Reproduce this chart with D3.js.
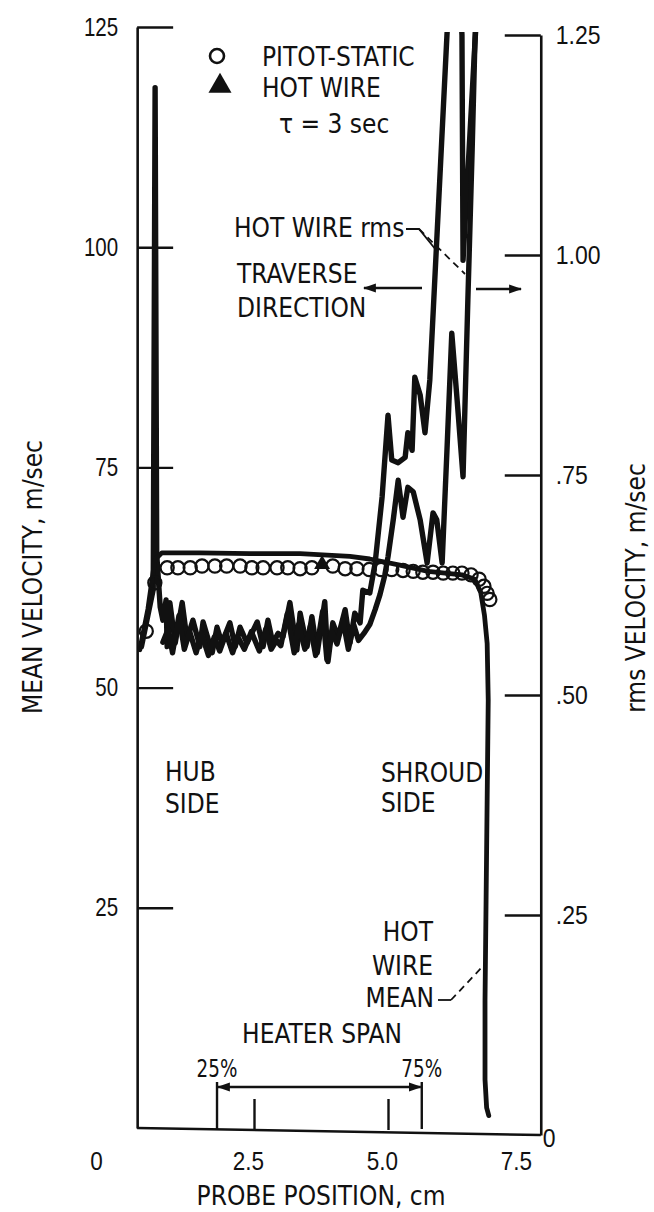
<!DOCTYPE html>
<html>
<head>
<meta charset="utf-8">
<script src="https://cdn.jsdelivr.net/npm/d3@7"></script>
<style>
  body { margin: 0; background: #fff; }
  svg { display: block; font-family: "DejaVu Sans Condensed", "DejaVu Sans", sans-serif; }
</style>
</head>
<body>
<div id="chart"></div>
<script>
// Chart dimensions.
const w = 654;
const h = 1212;

// Pitot-static survey: [probe position cm, mean velocity m/sec]
const pitotStatic = [
  [0.49, 56.4], [0.65, 61.9], [0.88, 63.6], [1.08, 63.6], [1.31, 63.6],
  [1.53, 63.8], [1.77, 63.8], [1.99, 63.8], [2.24, 63.8], [2.46, 63.6],
  [2.67, 63.6], [2.93, 63.6], [3.13, 63.6], [3.36, 63.5], [3.58, 63.6],
  [3.97, 63.8], [4.20, 63.5], [4.42, 63.5], [4.65, 63.4], [4.87, 63.4],
  [5.07, 63.4], [5.28, 63.3], [5.47, 63.2], [5.65, 63.1], [5.84, 63.1],
  [6.03, 63.0], [6.21, 63.0], [6.38, 63.0], [6.55, 62.8], [6.70, 62.3],
  [6.79, 61.5], [6.85, 60.7], [6.90, 60.0]
];

// Hot wire point (tau = 3 sec)
const hotWirePoint = [[3.77, 64.0]];

// Hot wire mean trace: [cm, m/sec]
const hotWireMean = [
  [0.37, 54.3], [0.52, 58.9], [0.65, 64.5], [0.78, 65.3], [1.49, 65.3],
  [2.43, 65.2], [3.36, 65.2], [4.29, 64.9], [4.66, 64.6], [5.22, 63.9],
  [5.75, 63.2], [6.38, 62.8], [6.62, 62.3], [6.73, 60.8], [6.80, 58.2],
  [6.85, 55.0], [6.87, 48.6], [6.85, 37.3], [6.83, 25.9], [6.81, 14.5],
  [6.81, 5.5], [6.84, 2.3], [6.88, 1.4]
];

// Hot wire rms traces (two records): [cm, rms m/sec]
const rmsRun1 = [
  [0.40, 0.555], [0.62, 0.620], [0.655, 1.19], [0.685, 0.660], [0.75, 0.600],
  [0.80, 0.585], [0.86, 0.608], [0.88, 0.555], [0.93, 0.605], [1.03, 0.559],
  [1.16, 0.605], [1.25, 0.563], [1.36, 0.585], [1.49, 0.555], [1.55, 0.583],
  [1.72, 0.548], [1.81, 0.577], [1.90, 0.559], [2.05, 0.582], [2.15, 0.555],
  [2.24, 0.577], [2.37, 0.559], [2.56, 0.583], [2.67, 0.555], [2.76, 0.585],
  [2.85, 0.559], [2.95, 0.570], [3.04, 0.566], [3.17, 0.605], [3.30, 0.551],
  [3.36, 0.593], [3.49, 0.555], [3.58, 0.589], [3.68, 0.548], [3.82, 0.606],
  [3.88, 0.538], [3.97, 0.582], [4.07, 0.566], [4.20, 0.597], [4.29, 0.559],
  [4.38, 0.593], [4.48, 0.582], [4.53, 0.619], [4.66, 0.616], [4.76, 0.650],
  [4.89, 0.725], [5.00, 0.818], [5.07, 0.767], [5.19, 0.764], [5.32, 0.770],
  [5.37, 0.798], [5.45, 0.778], [5.50, 0.861], [5.60, 0.841], [5.69, 0.798],
  [5.78, 0.858], [6.10, 1.25], [6.25, 1.40], [6.38, 1.25], [6.40, 0.994],
  [6.62, 1.239], [6.68, 1.30]
];
const rmsRun2 = [
  [0.80, 0.560], [0.90, 0.575], [0.98, 0.548], [1.10, 0.590], [1.20, 0.552],
  [1.30, 0.572], [1.42, 0.548], [1.52, 0.570], [1.65, 0.545], [1.76, 0.566],
  [1.86, 0.550], [1.98, 0.570], [2.10, 0.548], [2.20, 0.566], [2.32, 0.552],
  [2.45, 0.572], [2.60, 0.550], [2.72, 0.575], [2.82, 0.552], [2.92, 0.562],
  [3.00, 0.556], [3.12, 0.592], [3.25, 0.548], [3.33, 0.580], [3.45, 0.552],
  [3.55, 0.578], [3.65, 0.545], [3.78, 0.595], [3.86, 0.540], [3.95, 0.572],
  [4.05, 0.558], [4.16, 0.585], [4.26, 0.552], [4.36, 0.580], [4.45, 0.562],
  [4.55, 0.570], [4.66, 0.580], [4.76, 0.597], [4.85, 0.614], [4.94, 0.636],
  [5.00, 0.657], [5.10, 0.700], [5.19, 0.744], [5.28, 0.702], [5.37, 0.736],
  [5.47, 0.731], [5.60, 0.699], [5.73, 0.650], [5.84, 0.707], [5.91, 0.699],
  [6.01, 0.650], [6.10, 0.778], [6.19, 0.911], [6.29, 0.835], [6.40, 0.748],
  [6.49, 0.949], [6.57, 1.119], [6.62, 1.239], [6.66, 1.30]
];

// Axis ticks and labels
const meanTicks = [25, 50, 75, 100, 125];
const rmsTicks = [0, 0.25, 0.5, 0.75, 1.0, 1.25];
const rmsTickLabels = ["0", ".25", ".50", ".75", "1.00", "1.25"];
const posTicks = [0, 2.5, 5.0, 7.5];
const posTickLabels = ["0", "2.5", "5.0", "7.5"];
const frameSpan = [0.32, 7.85]; // probe positions at the frame sides
const heaterSpan = [1.81, 5.63]; // 25% .. 75%

// Scales
const x = d3.scaleLinear([0, 7.5], [120, 522]);
const yMean = d3.scaleLinear([0, 125], [1128, 27]);
const yRms = d3.scaleLinear([0, 1.25], [1135, 35]);

const xL = x(frameSpan[0]);
const xR = x(frameSpan[1]);
const ink = "#111";
const fs = 26;

const svg = d3.select("#chart")
  .append("svg")
  .attr("width", w)
  .attr("height", h)
  .attr("viewBox", [0, 0, w, h]);

svg.append("rect").attr("width", w).attr("height", h).attr("fill", "#fff");

// narrow lettering for the numerals
function squeeze(sel, k) {
  sel.each(function () {
    const len = this.getComputedTextLength();
    d3.select(this).attr("textLength", len * k).attr("lengthAdjust", "spacingAndGlyphs");
  });
}

// clip the recorder traces at the top of the chart
svg.append("clipPath").attr("id", "plot-clip")
  .append("rect")
  .attr("x", xL).attr("y", yRms(1.25) - 3)
  .attr("width", xR - xL).attr("height", h);

// Left axis (mean velocity)
svg.append("g")
  .attr("transform", `translate(${xL},0)`)
  .call(d3.axisLeft(yMean).tickValues(meanTicks).tickSizeInner(-36).tickSizeOuter(0).tickPadding(19))
  .call((g) => g.select(".domain").attr("stroke", ink).attr("stroke-width", 2.6))
  .call((g) => g.selectAll(".tick line").attr("stroke", ink).attr("stroke-width", 2.4))
  .call((g) => g.selectAll(".tick text").attr("fill", ink).attr("font-size", 25).call(squeeze, 0.82));

// Right axis (rms velocity)
svg.append("g")
  .attr("transform", `translate(${xR},0)`)
  .call(d3.axisRight(yRms).tickValues(rmsTicks).tickFormat((d, i) => rmsTickLabels[i])
    .tickSizeInner(-36).tickSizeOuter(0).tickPadding(15))
  .call((g) => g.select(".domain").attr("stroke", ink).attr("stroke-width", 2.6))
  .call((g) => g.selectAll(".tick line").attr("stroke", ink).attr("stroke-width", 2.4))
  .call((g) => g.selectAll(".tick text").attr("fill", ink).attr("font-size", 25).call(squeeze, 0.92))
  .call((g) => g.selectAll(".tick").filter((d) => d === 0)
    .call((t) => t.select("line").remove())
    .call((t) => t.select("text").attr("x", 2).attr("dy", "0.45em")));

// Bottom axis (probe position)
svg.append("line")
  .attr("x1", xL).attr("y1", yMean(0))
  .attr("x2", xR).attr("y2", yRms(0))
  .attr("stroke", ink).attr("stroke-width", 2.6);

svg.append("g")
  .attr("transform", `translate(0,${yMean(0) + 2})`)
  .call(d3.axisBottom(x).tickValues(posTicks).tickFormat((d, i) => posTickLabels[i])
    .tickSizeInner(-31).tickSizeOuter(0).tickPadding(22))
  .call((g) => g.select(".domain").remove())
  .call((g) => g.selectAll(".tick line").attr("stroke", ink).attr("stroke-width", 2.4))
  .call((g) => g.selectAll(".tick").filter((d) => d === 0 || d === 7.5).select("line").remove())
  .call((g) => g.selectAll(".tick text").attr("fill", ink).attr("font-size", 25).call(squeeze, 0.9))
  .call((g) => g.selectAll(".tick").filter((d) => d === 0).select("text").attr("dx", -24))
  .call((g) => g.selectAll(".tick").filter((d) => d !== 0).select("text").attr("dx", -6));

const txt = (x0, y0, s, anchor = "start", size = fs) =>
  svg.append("text").attr("x", x0).attr("y", y0).attr("text-anchor", anchor)
    .attr("font-size", size).attr("fill", ink).text(s);

// Axis titles
svg.append("text")
  .attr("transform", "translate(42,577) rotate(-90)")
  .attr("text-anchor", "middle").attr("font-size", fs).attr("fill", ink)
  .text("MEAN VELOCITY, m/sec");
svg.append("text")
  .attr("transform", "translate(645,588) rotate(-90)")
  .attr("text-anchor", "middle").attr("font-size", fs).attr("fill", ink)
  .text("rms VELOCITY, m/sec");
txt(321, 1205, "PROBE POSITION, cm", "middle");

// Traces
const plot = svg.append("g").attr("clip-path", "url(#plot-clip)");

const rmsLine = d3.line().x((d) => x(d[0])).y((d) => yRms(d[1]));
const meanLine = d3.line().x((d) => x(d[0])).y((d) => yMean(d[1]));

[rmsRun1, rmsRun2].forEach((run) => {
  plot.append("path")
    .datum(run)
    .attr("d", rmsLine)
    .attr("fill", "none")
    .attr("stroke", ink)
    .attr("stroke-width", 5.4)
    .attr("stroke-linejoin", "round")
    .attr("stroke-linecap", "round");
});

plot.append("path")
  .datum(hotWireMean)
  .attr("d", meanLine)
  .attr("fill", "none")
  .attr("stroke", ink)
  .attr("stroke-width", 4.8)
  .attr("stroke-linejoin", "round")
  .attr("stroke-linecap", "round");

plot.append("g")
  .selectAll("circle")
  .data(pitotStatic)
  .join("circle")
  .attr("cx", (d) => x(d[0]))
  .attr("cy", (d) => yMean(d[1]))
  .attr("r", 6.6)
  .attr("fill", "none")
  .attr("stroke", ink)
  .attr("stroke-width", 2.2);

plot.append("g")
  .selectAll("path")
  .data(hotWirePoint)
  .join("path")
  .attr("transform", (d) => `translate(${x(d[0])},${yMean(d[1])})`)
  .attr("d", d3.symbol(d3.symbolTriangle, 110))
  .attr("fill", ink);

// Legend
svg.append("circle").attr("cx", 217).attr("cy", 56).attr("r", 7)
  .attr("fill", "none").attr("stroke", ink).attr("stroke-width", 2.6);
svg.append("path").attr("transform", "translate(220,86)")
  .attr("d", d3.symbol(d3.symbolTriangle, 230)).attr("fill", ink);
txt(262, 66, "PITOT-STATIC");
txt(262, 97, "HOT WIRE");
txt(279, 133, "τ = 3 sec");

// Annotations
txt(234, 237, "HOT WIRE rms");
txt(237, 283, "TRAVERSE");
txt(237, 317, "DIRECTION");
txt(165, 781, "HUB");
txt(165, 813, "SIDE");
txt(381, 782, "SHROUD");
txt(381, 812, "SIDE");
txt(433, 941, "HOT", "end");
txt(433, 975, "WIRE", "end");
txt(434, 1007, "MEAN", "end");
txt(322, 1043, "HEATER SPAN", "middle");
txt(x(heaterSpan[0]), 1077, "25%", "middle", 24).call(squeeze, 0.85);
txt(x(heaterSpan[1]), 1077, "75%", "middle", 24).call(squeeze, 0.85);

// Leader lines
const lead = svg.append("g").attr("stroke", ink).attr("fill", "none").attr("stroke-width", 1.8);
lead.append("path").attr("d", "M406,229 L419,229 L436,250");
lead.append("path").attr("d", "M419,229 L465,274").attr("stroke-dasharray", "7,5");
lead.append("path").attr("d", "M438,1000 L451,1000");
lead.append("path").attr("d", "M451,1000 L485,964").attr("stroke-dasharray", "7,5");

// Arrow heads
svg.append("defs").append("marker")
  .attr("id", "head")
  .attr("viewBox", "0 0 10 10")
  .attr("refX", 9).attr("refY", 5)
  .attr("markerWidth", 5.5).attr("markerHeight", 5.5)
  .attr("markerUnits", "strokeWidth")
  .attr("orient", "auto-start-reverse")
  .append("path").attr("d", "M0,1.5 L10,5 L0,8.5 Z").attr("fill", ink);

// traverse direction arrows
svg.append("line").attr("x1", 422).attr("y1", 288).attr("x2", 364).attr("y2", 288)
  .attr("stroke", ink).attr("stroke-width", 2.4).attr("marker-end", "url(#head)");
svg.append("line").attr("x1", 476).attr("y1", 289).attr("x2", 521).attr("y2", 289)
  .attr("stroke", ink).attr("stroke-width", 2.4).attr("marker-end", "url(#head)");

// heater span bracket
const yb = yMean(0) + 1;
svg.append("g").attr("stroke", ink).attr("stroke-width", 2.4)
  .selectAll("line").data(heaterSpan).join("line")
  .attr("x1", (d) => x(d)).attr("x2", (d) => x(d))
  .attr("y1", yb).attr("y2", 1082);
svg.append("line")
  .attr("x1", x(heaterSpan[0]) + 1).attr("x2", x(heaterSpan[1]) - 1)
  .attr("y1", 1087).attr("y2", 1087)
  .attr("stroke", ink).attr("stroke-width", 2.4)
  .attr("marker-start", "url(#head)").attr("marker-end", "url(#head)");
</script>
</body>
</html>
